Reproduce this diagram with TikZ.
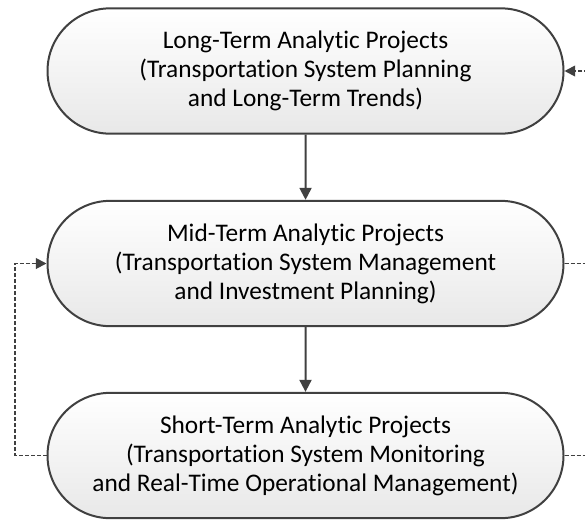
\documentclass[tikz,border=0pt]{standalone}
\usepackage{fontspec}
\setmainfont{Carlito}[Ligatures=NoCommon]
\usetikzlibrary{shapes.misc,arrows.meta}

\definecolor{edgegray}{HTML}{404040}

\begin{document}
\begin{tikzpicture}[x=0.75pt, y=-0.75pt,
  stage/.style={rounded rectangle, draw=edgegray, line width=1.5pt,
    top color=white, bottom color=black!9, minimum width=387pt,
    minimum height=94pt, align=center, inner sep=0pt,
    font=\fontsize{19}{21.75}\selectfont},
  flow/.style={draw=edgegray, line width=1.5pt, -{Triangle[length=9pt, width=9pt]}},
  loop/.style={draw=edgegray, line width=1.4pt, dash pattern=on 3pt off 1.5pt}]
\useasboundingbox (0,0) rectangle (585,519);
\node[stage] (long) at (305.5, 71){Long-Term Analytic Projects\\(Transportation System Planning\\and Long-Term Trends)};
\node[stage] (mid) at (305.5, 263.5){Mid-Term Analytic Projects\\(Transportation System Management\\and Investment Planning)};
\node[stage] (short) at (305.5, 455.5){Short-Term Analytic Projects\\(Transportation System Monitoring\\and Real-Time Operational Management)};
\draw[flow] (long) -- (mid);
\draw[flow] (mid) -- (short);
\coordinate (lefttrack) at (15, 455.5);
\coordinate (midout) at (600, 263.5);
\coordinate (shortout) at (600, 455.5);
\coordinate (longin) at (600, 71);
\draw[loop, -{Triangle[length=8pt, width=8pt]}] (short.west) -- (lefttrack) |- (mid.west);
\draw[loop] (mid.east) -- (midout);
\draw[loop] (short.east) -- (shortout);
\draw[loop, -{Triangle[length=8pt, width=8pt]}] (longin) -- (long.east);
\end{tikzpicture}
\end{document}
